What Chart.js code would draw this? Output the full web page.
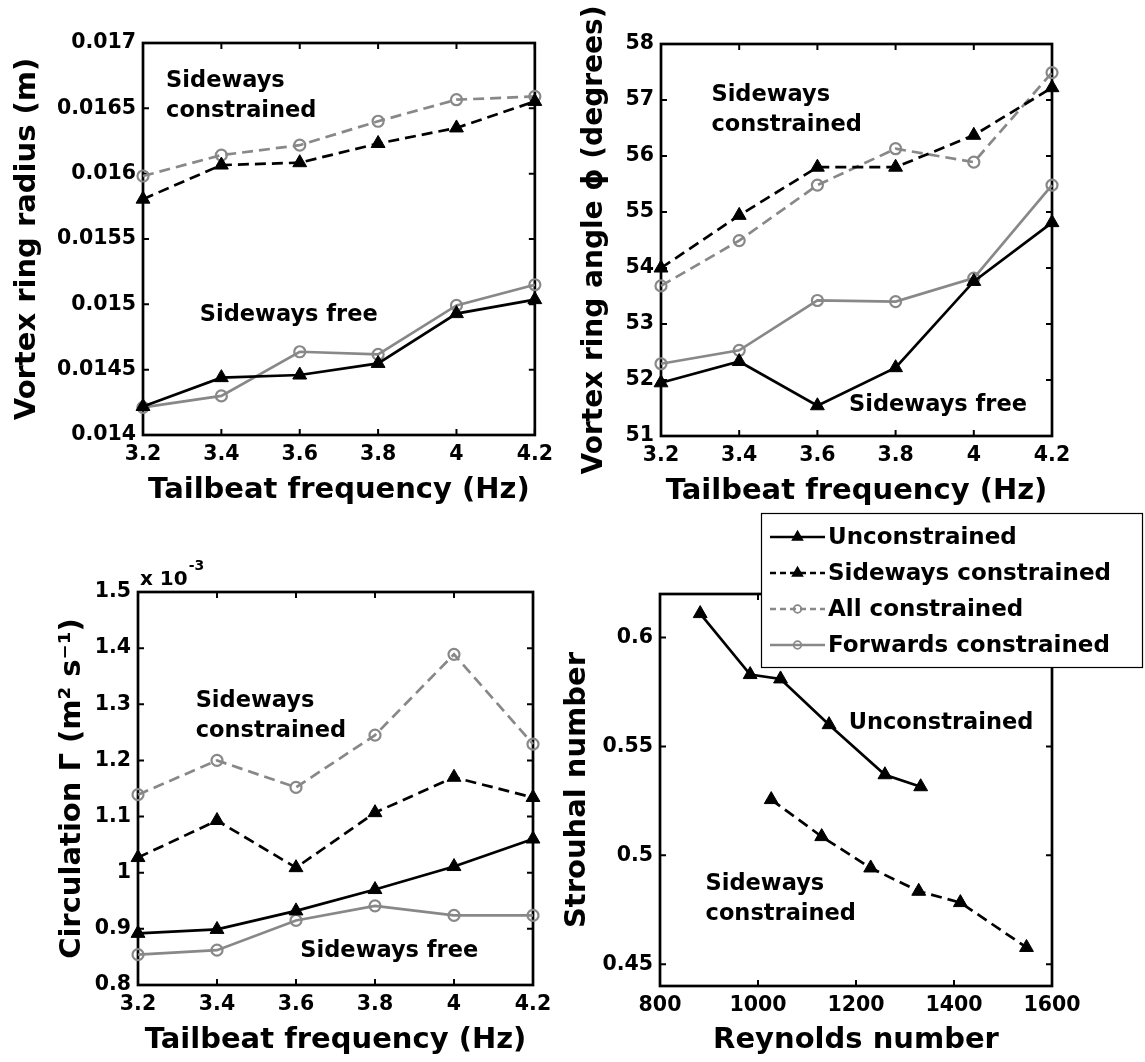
<!DOCTYPE html>
<html><head><meta charset="utf-8">
<script src="https://cdn.jsdelivr.net/npm/chart.js@4.4.1/dist/chart.umd.min.js"></script>
<style>
html,body{margin:0;padding:0;background:#fff;}
body{width:1145px;height:1062px;position:relative;overflow:hidden;}
canvas{position:absolute;}
</style></head><body>
<canvas id="c1" width="560" height="520" style="left:0px;top:0px"></canvas>
<canvas id="c2" width="585" height="520" style="left:560px;top:0px"></canvas>
<canvas id="c3" width="560" height="542" style="left:0px;top:520px"></canvas>
<canvas id="c4" width="585" height="557" style="left:560px;top:505px"></canvas>
<script>
// ---------- data ----------
const seriesNames = ['Unconstrained', 'Sideways constrained', 'All constrained', 'Forwards constrained'];
const tailbeatFreq = [3.2, 3.4, 3.6, 3.8, 4.0, 4.2];
const freqTicks = [3.2, 3.4, 3.6, 3.8, 4, 4.2];

// Vortex ring radius (m)
const radiusUnconstrained = [0.014218, 0.014439, 0.014459, 0.014548, 0.014929, 0.015036];
const radiusSideways      = [0.015805, 0.016066, 0.016084, 0.016231, 0.016350, 0.016553];
const radiusAll           = [0.015982, 0.016142, 0.016218, 0.016401, 0.016566, 0.016591];
const radiusForwards      = [0.014211, 0.014299, 0.014637, 0.014617, 0.014992, 0.015150];
const radiusTicks = [0.014, 0.0145, 0.015, 0.0155, 0.016, 0.0165, 0.017];

// Vortex ring angle (degrees)
const angleUnconstrained = [51.95, 52.33, 51.54, 52.22, 53.76, 54.81];
const angleSideways      = [54.00, 54.94, 55.80, 55.80, 56.37, 57.22];
const angleAll           = [53.68, 54.49, 55.48, 56.13, 55.89, 57.49];
const angleForwards      = [52.29, 52.53, 53.42, 53.40, 53.82, 55.48];
const angleTicks = [51, 52, 53, 54, 55, 56, 57, 58];

// Circulation (m^2 s^-1)
const circUnconstrained = [0.000892, 0.000899, 0.000932, 0.000970, 0.001011, 0.001060];
const circSideways      = [0.001027, 0.001093, 0.001009, 0.001107, 0.001170, 0.001134];
const circAll           = [0.001139, 0.001200, 0.001152, 0.001245, 0.001389, 0.001229];
const circForwards      = [0.000854, 0.000862, 0.000915, 0.000941, 0.000924, 0.000924];
const circTicks = [0.0008, 0.0009, 0.0010, 0.0011, 0.0012, 0.0013, 0.0014, 0.0015];

// Strouhal vs Reynolds
const reynoldsUnconstrained = [882, 984, 1046, 1145, 1259, 1332];
const strouhalUnconstrained = [0.611, 0.583, 0.581, 0.560, 0.537, 0.5315];
const reynoldsSideways = [1027, 1130, 1230, 1328, 1413, 1548];
const strouhalSideways = [0.5256, 0.5086, 0.4942, 0.4835, 0.4783, 0.4577];
const reynoldsTicks = [800, 1000, 1200, 1400, 1600];
const strouhalTicks = [0.45, 0.5, 0.55, 0.6];

// ---------- styles ----------
const FONT = "'DejaVu Sans', 'Liberation Sans', sans-serif";
const GRAY = '#888888';
const styleOf = {
  'Unconstrained':        {color: '#000', dash: [],      marker: 'triangle'},
  'Sideways constrained': {color: '#000', dash: [11, 6], marker: 'triangle'},
  'All constrained':      {color: GRAY,   dash: [11, 6], marker: 'circle'},
  'Forwards constrained': {color: GRAY,   dash: [],      marker: 'circle'}
};

function makeDataset(name, xs, ys) {
  const s = styleOf[name];
  const tri = s.marker === 'triangle';
  return {
    label: name,
    data: xs.map((x, i) => ({x: x, y: ys[i]})),
    borderColor: s.color,
    borderDash: s.dash,
    borderWidth: 2.7,
    tension: 0,
    fill: false,
    clip: false,
    pointStyle: s.marker,
    pointRadius: tri ? 8 : 5.5,
    pointBorderWidth: tri ? 1 : 2.2,
    pointBorderColor: s.color,
    pointBackgroundColor: tri ? s.color : 'rgba(0,0,0,0)'
  };
}

// ---------- plugins ----------
const framePlugin = {
  id: 'frame',
  beforeDatasetsDraw(chart) {
    const {ctx, chartArea: a, scales} = chart;
    ctx.save();
    ctx.strokeStyle = '#000';
    ctx.lineWidth = 2.7;
    ctx.strokeRect(a.left, a.top, a.right - a.left, a.bottom - a.top);
    ctx.lineWidth = 2;
    const L = 6;
    ctx.beginPath();
    scales.x.ticks.forEach(t => {
      const p = scales.x.getPixelForValue(t.value);
      ctx.moveTo(p, a.bottom); ctx.lineTo(p, a.bottom - L);
      ctx.moveTo(p, a.top); ctx.lineTo(p, a.top + L);
    });
    scales.y.ticks.forEach(t => {
      const p = scales.y.getPixelForValue(t.value);
      ctx.moveTo(a.left, p); ctx.lineTo(a.left + L, p);
      ctx.moveTo(a.right, p); ctx.lineTo(a.right - L, p);
    });
    ctx.stroke();
    ctx.restore();
  }
};

const notesPlugin = {
  id: 'notes',
  afterDatasetsDraw(chart, args, opts) {
    const {ctx, scales} = chart;
    ctx.save();
    ctx.fillStyle = '#000';
    ctx.font = 'bold ' + opts.size + 'px ' + FONT;
    ctx.textAlign = 'left';
    ctx.textBaseline = 'alphabetic';
    (opts.items || []).forEach(n => {
      ctx.fillText(n.text, scales.x.getPixelForValue(n.x), scales.y.getPixelForValue(n.y));
    });
    ctx.restore();
  }
};

const exponentPlugin = {
  id: 'exponent',
  afterDraw(chart, args, opts) {
    const {ctx, chartArea: a} = chart;
    ctx.save();
    ctx.fillStyle = '#000';
    ctx.textAlign = 'left';
    ctx.textBaseline = 'alphabetic';
    ctx.font = 'bold 20px ' + FONT;
    const base = 'x 10';
    ctx.fillText(base, a.left + 2, a.top - 7);
    const w = ctx.measureText(base).width;
    ctx.font = 'bold 14px ' + FONT;
    ctx.fillText(opts.exp, a.left + 3 + w, a.top - 22);
    ctx.restore();
  }
};

function drawMarker(ctx, style, x, y, r, color, filled) {
  ctx.beginPath();
  if (style === 'triangle') {
    for (let k = 0; k < 3; k++) {
      const ang = k * 2 * Math.PI / 3;
      const px = x + Math.sin(ang) * r, py = y - Math.cos(ang) * r;
      if (k === 0) ctx.moveTo(px, py); else ctx.lineTo(px, py);
    }
    ctx.closePath();
  } else {
    ctx.arc(x, y, r, 0, Math.PI * 2);
  }
  ctx.setLineDash([]);
  ctx.strokeStyle = color;
  ctx.lineWidth = 1.8;
  if (filled) { ctx.fillStyle = color; ctx.fill(); }
  ctx.stroke();
}

const boxLegendPlugin = {
  id: 'boxLegend',
  afterDraw(chart, args, o) {
    const ctx = chart.ctx;
    ctx.save();
    ctx.fillStyle = '#fff';
    ctx.fillRect(o.x, o.y, o.w, o.h);
    ctx.strokeStyle = '#000';
    ctx.lineWidth = 1.2;
    ctx.strokeRect(o.x + 0.5, o.y + 0.5, o.w, o.h);
    chart.data.datasets.forEach((ds, i) => {
      const yy = o.rowY[i];
      ctx.strokeStyle = ds.borderColor;
      ctx.lineWidth = 2.4;
      ctx.setLineDash(ds.borderDash.length ? [6, 4] : []);
      ctx.beginPath();
      ctx.moveTo(o.lineX0, yy); ctx.lineTo(o.lineX1, yy);
      ctx.stroke();
      const tri = ds.pointStyle === 'triangle';
      drawMarker(ctx, ds.pointStyle, (o.lineX0 + o.lineX1) / 2, yy, tri ? 5.5 : 3.8, ds.borderColor, tri);
      ctx.fillStyle = '#000';
      ctx.font = 'bold ' + o.size + 'px ' + FONT;
      ctx.textAlign = 'left';
      ctx.textBaseline = 'middle';
      ctx.fillText(ds.label, o.textX, yy + 1);
    });
    ctx.restore();
  }
};

// ---------- builder ----------
const tickFont = {family: FONT, size: 20.5, weight: 'bold'};

function buildChart(id, cfg) {
  const titleFontY = {family: FONT, size: cfg.yTitleSize || 29, weight: 'bold'};
  const titleFontX = {family: FONT, size: 29, weight: 'bold'};
  return new Chart(document.getElementById(id), {
    type: 'line',
    data: {datasets: cfg.datasets},
    options: {
      responsive: false,
      animation: false,
      devicePixelRatio: 1,
      events: [],
      layout: {padding: {top: cfg.padTop, right: cfg.padRight, left: 0, bottom: 0}},
      plugins: Object.assign({
        legend: {display: false},
        tooltip: {enabled: false},
        notes: {items: cfg.notes, size: 22.5}
      }, cfg.pluginOpts || {}),
      scales: {
        x: {
          type: 'linear', bounds: 'data',
          min: cfg.xMin, max: cfg.xMax,
          afterBuildTicks(s) { s.ticks = cfg.xTicks.map(v => ({value: v})); },
          afterFit(s) { s.height = cfg.xH; },
          grid: {display: false, drawTicks: false},
          border: {display: false},
          ticks: {autoSkip: false, maxRotation: 0, minRotation: 0, padding: 7, color: '#000', font: tickFont,
                  callback: cfg.xFmt || (v => String(v))},
          title: {display: true, text: cfg.xTitle, color: '#000', font: titleFontX, padding: {top: 0, bottom: cfg.xTitlePad}}
        },
        y: {
          type: 'linear', bounds: 'data',
          min: cfg.yMin, max: cfg.yMax,
          afterBuildTicks(s) { s.ticks = cfg.yTicks.map(v => ({value: v})); },
          afterFit(s) { s.width = cfg.yW; },
          grid: {display: false, drawTicks: false},
          border: {display: false},
          ticks: {autoSkip: false, padding: 7, color: '#000', font: tickFont,
                  callback: cfg.yFmt || (v => String(v))},
          title: {display: true, text: cfg.yTitle, color: '#000', font: titleFontY, padding: {top: cfg.yTitlePad, bottom: 0}}
        }
      }
    },
    plugins: [framePlugin, notesPlugin].concat(cfg.extraPlugins || [])
  });
}

const freqTitle = 'Tailbeat frequency (Hz)';

// Panel 1: radius
buildChart('c1', {
  datasets: [
    makeDataset(seriesNames[0], tailbeatFreq, radiusUnconstrained),
    makeDataset(seriesNames[1], tailbeatFreq, radiusSideways),
    makeDataset(seriesNames[2], tailbeatFreq, radiusAll),
    makeDataset(seriesNames[3], tailbeatFreq, radiusForwards)
  ],
  padTop: 43, padRight: 25, yW: 143, xH: 85,
  xMin: 3.2, xMax: 4.2, xTicks: freqTicks,
  yMin: 0.014, yMax: 0.017, yTicks: radiusTicks,
  xTitle: freqTitle, xTitlePad: 12,
  yTitle: 'Vortex ring radius (m)', yTitlePad: 9.6,
  notes: [
    {text: 'Sideways', x: 3.259, y: 0.016664},
    {text: 'constrained', x: 3.259, y: 0.016436},
    {text: 'Sideways free', x: 3.345, y: 0.01487}
  ]
});

// Panel 2: angle
buildChart('c2', {
  datasets: [
    makeDataset(seriesNames[0], tailbeatFreq, angleUnconstrained),
    makeDataset(seriesNames[1], tailbeatFreq, angleSideways),
    makeDataset(seriesNames[2], tailbeatFreq, angleAll),
    makeDataset(seriesNames[3], tailbeatFreq, angleForwards)
  ],
  padTop: 44, padRight: 93, yW: 101, xH: 84,
  xMin: 3.2, xMax: 4.2, xTicks: freqTicks,
  yMin: 51, yMax: 58, yTicks: angleTicks,
  xTitle: freqTitle, xTitlePad: 11.6,
  yTitle: 'Vortex ring angle \u03D5 (degrees)', yTitlePad: 18, yTitleSize: 28,
  notes: [
    {text: 'Sideways', x: 3.329, y: 56.99},
    {text: 'constrained', x: 3.329, y: 56.45},
    {text: 'Sideways free', x: 3.681, y: 51.445}
  ]
});

// Panel 3: circulation
buildChart('c3', {
  datasets: [
    makeDataset(seriesNames[0], tailbeatFreq, circUnconstrained),
    makeDataset(seriesNames[1], tailbeatFreq, circSideways),
    makeDataset(seriesNames[2], tailbeatFreq, circAll),
    makeDataset(seriesNames[3], tailbeatFreq, circForwards)
  ],
  padTop: 72, padRight: 27, yW: 138, xH: 77,
  xMin: 3.2, xMax: 4.2, xTicks: freqTicks,
  yMin: 0.0008, yMax: 0.0015, yTicks: circTicks,
  yFmt: v => String(Math.round(v * 10000) / 10),
  xTitle: freqTitle, xTitlePad: 4.6,
  yTitle: 'Circulation \u0393 (m\u00B2 s\u207B\u00B9)', yTitlePad: 54.6,
  notes: [
    {text: 'Sideways', x: 3.346, y: 0.001296},
    {text: 'constrained', x: 3.346, y: 0.001242},
    {text: 'Sideways free', x: 3.611, y: 0.00085}
  ],
  pluginOpts: {exponent: {exp: '-3'}},
  extraPlugins: [exponentPlugin]
});

// Panel 4: Strouhal vs Reynolds
buildChart('c4', {
  datasets: [
    makeDataset(seriesNames[0], reynoldsUnconstrained, strouhalUnconstrained),
    makeDataset(seriesNames[1], reynoldsSideways, strouhalSideways),
    makeDataset(seriesNames[2], [], []),
    makeDataset(seriesNames[3], [], [])
  ],
  padTop: 89, padRight: 93, yW: 100, xH: 76,
  xMin: 800, xMax: 1600, xTicks: reynoldsTicks,
  yMin: 0.44, yMax: 0.62, yTicks: strouhalTicks,
  xTitle: 'Reynolds number', xTitlePad: 4.6,
  yTitle: 'Strouhal number', yTitlePad: 0,
  notes: [
    {text: 'Unconstrained', x: 1185, y: 0.558},
    {text: 'Sideways', x: 893, y: 0.4843},
    {text: 'constrained', x: 893, y: 0.4704}
  ],
  pluginOpts: {boxLegend: {x: 201, y: 8, w: 381, h: 154, rowY: [32, 68, 104, 140], lineX0: 210, lineX1: 265, textX: 268, size: 23}},
  extraPlugins: [boxLegendPlugin]
});
</script>
</body></html>
